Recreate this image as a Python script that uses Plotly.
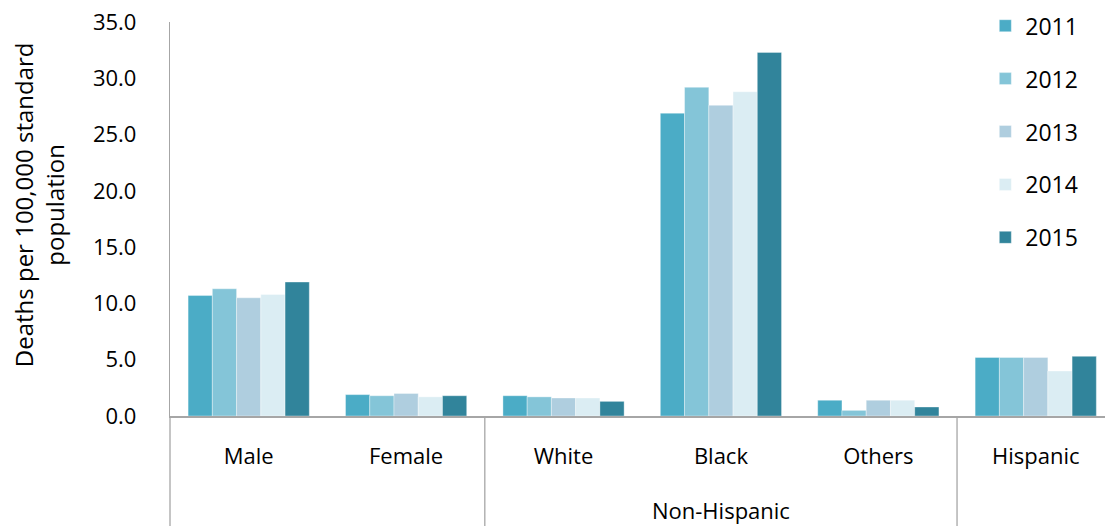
import plotly.graph_objects as go

categories = ["Male", "Female", "White", "Black", "Others", "Hispanic"]
years = ["2011", "2012", "2013", "2014", "2015"]
values = {
    "2011": [10.7, 1.9, 1.8, 26.9, 1.4, 5.2],
    "2012": [11.3, 1.8, 1.7, 29.2, 0.5, 5.2],
    "2013": [10.5, 2.0, 1.6, 27.6, 1.4, 5.2],
    "2014": [10.8, 1.7, 1.6, 28.8, 1.4, 4.0],
    "2015": [11.9, 1.8, 1.3, 32.3, 0.8, 5.3],
}
colors = ["#4BACC6", "#84C5D8", "#AFCEDF", "#DBEDF3", "#31849B"]
y_ticks = [0, 5, 10, 15, 20, 25, 30, 35]
group_label = "Non-Hispanic"
group_span = (1.5, 4.5)

FONT = "Open Sans"

fig = go.Figure()
for i, yr in enumerate(years):
    fig.add_trace(go.Bar(
        x=categories, y=values[yr], name=yr,
        marker=dict(color=colors[i], line=dict(width=0.6, color="rgba(255,255,255,0.6)")),
        legendgroup=yr,
    ))

axis_col = "#A6A6A6"
H = 526
top, bottom = 22, 110
plot_h = H - top - bottom
ybot = -bottom / plot_h

shapes = []
for xv in group_span:
    shapes.append(dict(type="line", xref="x", yref="paper", x0=xv, x1=xv, y0=0, y1=ybot,
                       line=dict(color=axis_col, width=1.3)))
shapes.append(dict(type="line", xref="paper", yref="paper", x0=0, x1=0, y0=0, y1=ybot,
                   line=dict(color=axis_col, width=1.3)))

fig.update_layout(
    width=1105, height=526,
    margin=dict(l=170, r=0, t=top, b=bottom),
    plot_bgcolor="white", paper_bgcolor="white",
    font=dict(family=FONT, size=22, color="#000000"),
    barmode="group", bargap=0.23, bargroupgap=0,
    showlegend=True,
    legend=dict(x=0.872, y=1.045, xanchor="left", yanchor="top",
                font=dict(size=23, color="#000000"),
                tracegroupgap=20, bgcolor="rgba(0,0,0,0)", itemwidth=30),
    shapes=shapes,
    annotations=[
        dict(text=group_label, x=(group_span[0] + group_span[1]) / 2, xref="x",
             y=(416 - 510) / plot_h, yref="paper", showarrow=False,
             font=dict(size=22), xanchor="center", yanchor="middle"),
        dict(text="Deaths per 100,000 standard<br>population", x=0, xref="paper",
             xshift=-131, y=0.535, yref="paper", textangle=-90, showarrow=False,
             font=dict(size=24), xanchor="center", yanchor="middle"),
    ],
)
fig.update_xaxes(
    range=[-0.5, 5.44], showline=True, linecolor=axis_col, linewidth=1.5,
    ticks="", showgrid=False, ticklabelstandoff=20, tickfont=dict(size=22),
)
fig.update_yaxes(
    range=[0, 35], tickvals=y_ticks, tickformat=".1f", showline=True,
    linecolor=axis_col, linewidth=1.3, showgrid=False, ticks="",
    ticklabelstandoff=28, tickfont=dict(size=22), zeroline=False,
)

fig.write_html("out.html", config={"displayModeBar": False},
               post_script="document.body.style.margin='0px';")
